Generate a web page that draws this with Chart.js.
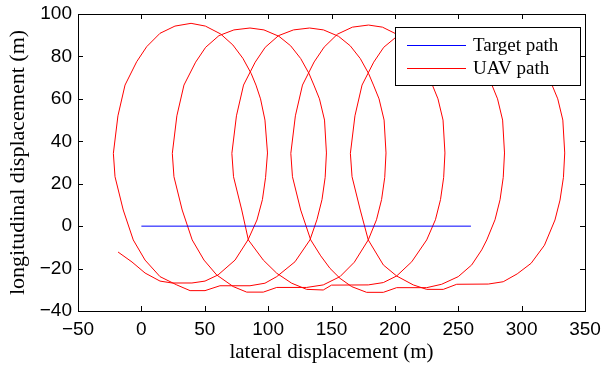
<!DOCTYPE html>
<html>
<head>
<meta charset="utf-8">
<script src="https://cdn.jsdelivr.net/npm/chart.js@4.4.0/dist/chart.umd.min.js"></script>
<style>
  html, body { margin: 0; padding: 0; background: #fff; }
</style>
</head>
<body>
<canvas id="pathChart" width="602" height="366"></canvas>
<script>
// axis ticks
const xTicks = [-50, 0, 50, 100, 150, 200, 250, 300, 350];
const yTicks = [-40, -20, 0, 20, 40, 60, 80, 100];

// target moves along y = 0
const targetX = [0, 260];
const targetY = [0, 0];

// UAV path (start, loop, bottom, loop, ...)
const uavX = [
  -18.4, -7.4, 2.9, 14.7, 24.2, 39.9, 50.2, 60.5, 73.9,
  84.1, 91.2, 95.5, 98.0, 99.5, 97.5, 94.0, 90.4, 86.6, 80.1, 72.2, 62.5, 50.5, 39.2, 26.5, 14.7, 4.2, -3.7, -12.9, -18.5, -22.1, -20.8, -14.3, -6.4,
  2.9, 14.7, 27.9, 38.4, 50.2, 62.0, 85.7, 97.5, 106.8, 121.2,
  133.0, 138.5, 142.5, 145.0, 146.0, 144.5, 140.5, 136.1, 132.2, 125.7, 117.8, 108.5, 96.7, 85.7, 73.0, 61.2, 50.7, 42.8, 33.6, 28.0, 24.4, 25.7, 32.2, 40.1,
  49.4, 59.4, 72.5, 83.1, 96.2, 106.8, 130.4, 143.5, 156.7, 168.0,
  179.0, 185.5, 189.5, 192.0, 193.0, 191.5, 187.5, 183.1, 179.2, 172.7, 164.8, 155.5, 143.7, 132.7, 120.0, 108.2, 97.7, 89.8, 80.6, 75.0, 71.4, 72.7, 79.2, 84.4,
  96.2, 106.8, 118.6, 130.4, 143.5, 150.0, 179.0, 190.9, 201.4, 213.3,
  225.1, 232.0, 236.0, 238.5, 239.5, 238.0, 234.0, 229.6, 225.7, 219.2, 211.3, 202.0, 190.2, 179.2, 166.5, 154.7, 144.2, 136.3, 127.1, 121.5, 117.9, 119.2, 125.7, 133.6,
  141.5, 148.8, 156.7, 165.9, 177.7, 190.9, 201.4, 225.1, 236.9, 250.0, 260.6, 268.5,
  272.5, 279.0, 283.0, 285.5, 286.5, 285.0, 281.0, 276.6, 272.7, 266.2, 258.3, 249.0, 237.2, 226.2, 213.5, 201.7, 191.2, 183.3, 174.1, 168.5, 164.9, 166.2, 172.7, 179.0,
  190.9, 201.4, 214.5, 225.1, 238.2, 248.8, 273.7, 285.5, 296.5, 307.5, 318.0,
  326.3, 330.3, 333.0, 334.0, 332.5, 328.5, 324.0, 320.0, 313.5, 305.5, 296.0, 284.0, 273.0
];
const uavY = [
  -12.2, -16.9, -22.1, -25.9, -26.8, -26.8, -25.9, -23.0, -16.0,
  -6.5, 2.9, 12.5, 23.0, 34.5, 50.0, 60.0, 66.5, 72.0, 79.1, 85.4, 90.6, 94.3, 95.6, 94.3, 90.9, 84.6, 77.5, 66.5, 52.0, 34.3, 23.3, 7.6, -6.5,
  -16.0, -23.8, -27.7, -30.4, -30.4, -28.1, -28.1, -26.9, -23.8, -16.8,
  -6.5, 3.0, 12.5, 23.0, 34.5, 50.0, 60.0, 66.5, 72.0, 79.0, 85.0, 89.5, 92.5, 93.4, 92.5, 89.8, 84.3, 77.3, 66.5, 52.0, 34.3, 23.3, 7.6, -6.5,
  -16.0, -23.0, -28.5, -31.1, -31.1, -28.9, -28.9, -27.7, -23.8, -17.0,
  -6.5, 3.0, 12.5, 23.0, 34.5, 50.0, 60.0, 66.5, 72.0, 79.0, 85.0, 89.5, 92.5, 93.4, 92.5, 89.8, 84.3, 77.3, 66.5, 52.0, 34.3, 23.3, 7.6, -6.5,
  -16.0, -22.2, -26.9, -29.8, -30.1, -27.8, -27.7, -26.6, -23.5, -16.8,
  -6.5, 3.0, 12.5, 23.0, 34.5, 50.0, 60.0, 66.5, 72.0, 79.0, 85.2, 90.3, 93.8, 94.8, 93.8, 90.5, 84.4, 77.4, 66.5, 52.0, 34.3, 23.3, 7.6, -6.5,
  -14.0, -19.9, -24.6, -28.5, -31.2, -31.2, -29.0, -29.0, -27.4, -23.8, -18.3, -11.2,
  -6.5, 3.0, 12.5, 23.0, 34.5, 50.0, 60.0, 66.5, 72.0, 79.0, 85.0, 89.5, 92.3, 93.1, 92.3, 89.5, 84.3, 77.3, 66.5, 52.0, 34.3, 23.3, 7.6, -6.5,
  -18.3, -23.5, -27.7, -29.8, -29.8, -27.4, -27.3, -26.2, -22.5, -17.5, -9.0,
  2.9, 12.3, 23.0, 34.5, 50.0, 60.0, 66.5, 72.0, 79.0, 85.0, 89.5, 92.2, 93.0
];

const legendItems = [
  { label: 'Target path', color: '#0000ff' },
  { label: 'UAV path', color: '#ff0000' }
];

const toPoints = (xs, ys) => xs.map((x, i) => ({ x: x, y: ys[i] }));
const fmt = v => (v < 0 ? '\u2212' + Math.abs(v) : String(v));

// box round the plot with inward ticks on all four sides
const frameTicks = {
  id: 'frameTicks',
  afterDatasetsDraw(chart) {
    const { ctx, chartArea: a, scales } = chart;
    const len = 5;
    ctx.save();
    ctx.strokeStyle = '#000';
    ctx.lineWidth = 1;
    ctx.beginPath();
    xTicks.forEach(v => {
      const px = Math.round(scales.x.getPixelForValue(v)) + 0.5;
      ctx.moveTo(px, a.bottom); ctx.lineTo(px, a.bottom - len);
      ctx.moveTo(px, a.top); ctx.lineTo(px, a.top + len);
    });
    yTicks.forEach(v => {
      const py = Math.round(scales.y.getPixelForValue(v)) + 0.5;
      ctx.moveTo(a.left, py); ctx.lineTo(a.left + len, py);
      ctx.moveTo(a.right, py); ctx.lineTo(a.right - len, py);
    });
    ctx.stroke();
    ctx.strokeRect(Math.round(a.left) + 0.5, Math.round(a.top) + 0.5,
      Math.round(a.right - a.left), Math.round(a.bottom - a.top));
    ctx.restore();
  }
};

// legend box in the upper right corner of the plot
const boxLegend = {
  id: 'boxLegend',
  afterDraw(chart) {
    const { ctx, chartArea: a } = chart;
    const x0 = Math.round(a.right) - 190, y0 = Math.round(a.top) + 13;
    const w = 185, h = 58;
    ctx.save();
    ctx.fillStyle = '#fff';
    ctx.fillRect(x0, y0, w, h);
    ctx.strokeStyle = '#000';
    ctx.lineWidth = 1;
    ctx.strokeRect(x0 + 0.5, y0 + 0.5, w, h);
    ctx.font = '19px "Liberation Serif", "Times New Roman", serif';
    ctx.textBaseline = 'middle';
    ctx.textAlign = 'left';
    legendItems.forEach((item, i) => {
      const yy = y0 + 18 + i * 23;
      ctx.strokeStyle = item.color;
      ctx.beginPath();
      ctx.moveTo(x0 + 12, yy + 0.5);
      ctx.lineTo(x0 + 71, yy + 0.5);
      ctx.stroke();
      ctx.fillStyle = '#000';
      ctx.fillText(item.label, x0 + 78, yy + 1);
    });
    ctx.restore();
  }
};

new Chart(document.getElementById('pathChart'), {
  type: 'scatter',
  data: {
    datasets: [{
      label: legendItems[0].label,
      data: toPoints(targetX, targetY),
      showLine: true,
      borderColor: legendItems[0].color,
      borderWidth: 1,
      pointRadius: 0,
      fill: false
    }, {
      label: legendItems[1].label,
      data: toPoints(uavX, uavY),
      showLine: true,
      borderColor: legendItems[1].color,
      borderWidth: 1,
      pointRadius: 0,
      fill: false,
      tension: 0
    }]
  },
  options: {
    responsive: false,
    animation: false,
    devicePixelRatio: 1,
    layout: { padding: { top: 14, right: 17, left: 0, bottom: 0 } },
    plugins: {
      legend: { display: false },
      tooltip: { enabled: false }
    },
    scales: {
      x: {
        type: 'linear',
        min: -50,
        max: 350,
        afterBuildTicks: s => { s.ticks = xTicks.map(v => ({ value: v })); },
        afterFit: s => { s.height = 55; s.paddingLeft = 0; s.paddingRight = 0; },
        grid: { display: false, drawTicks: false },
        border: { display: false },
        ticks: {
          color: '#000',
          padding: 7,
          maxRotation: 0,
          autoSkip: false,
          font: { family: '"Liberation Sans", Arial, sans-serif', size: 19 },
          callback: v => fmt(v)
        },
        title: {
          display: true,
          text: 'lateral displacement (m)',
          color: '#000',
          padding: { top: 0, bottom: 1 },
          font: { family: '"Liberation Serif", "Times New Roman", serif', size: 21 }
        }
      },
      y: {
        type: 'linear',
        min: -40,
        max: 100,
        afterBuildTicks: s => { s.ticks = yTicks.map(v => ({ value: v })); },
        afterFit: s => { s.width = 78; s.paddingTop = 0; s.paddingBottom = 0; },
        grid: { display: false, drawTicks: false },
        border: { display: false },
        ticks: {
          color: '#000',
          padding: 6,
          autoSkip: false,
          font: { family: '"Liberation Sans", Arial, sans-serif', size: 19 },
          callback: v => fmt(v)
        },
        title: {
          display: true,
          text: 'longitudinal displacement (m)',
          color: '#000',
          padding: { top: 5, bottom: 0 },
          font: { family: '"Liberation Serif", "Times New Roman", serif', size: 22 }
        }
      }
    }
  },
  plugins: [frameTicks, boxLegend]
});
</script>
</body>
</html>
